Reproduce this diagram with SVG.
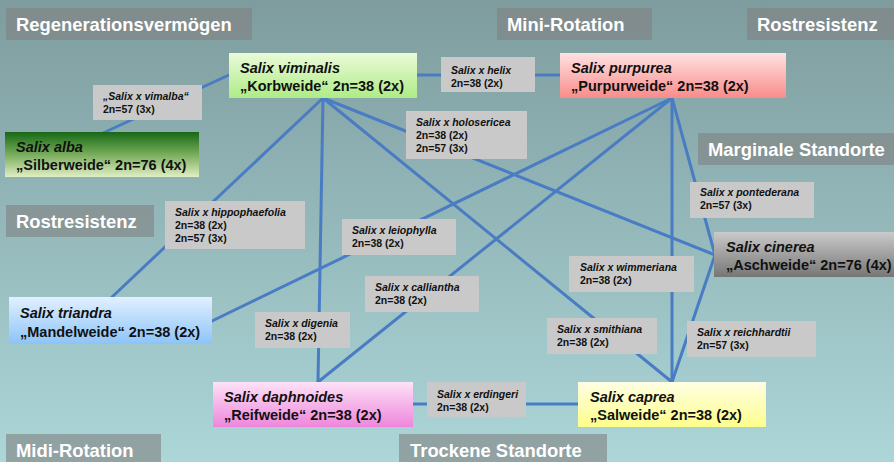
<svg xmlns="http://www.w3.org/2000/svg" width="894" height="462" viewBox="0 0 894 462">
<style>
text{font-family:"Liberation Sans",Arial,sans-serif;font-weight:bold;fill:#111}
.cat rect{fill:#808080;fill-opacity:0.6}
.cat text{fill:#fff;font-size:18.4px}
.node text{font-size:14.5px}
.it{font-style:italic}
.hyb rect{fill:#c9c9c9}
.hyb text{font-size:10.5px}
.conn line{stroke:#4a7cc4;stroke-width:3;stroke-linecap:round}
</style>
<defs>
<linearGradient id="bg" x1="0" y1="0" x2="0" y2="1"><stop offset="0" stop-color="#7e9c9e"/><stop offset="1" stop-color="#acd6d8"/></linearGradient>
<linearGradient id="gGreen" x1="0" y1="0" x2="0" y2="1"><stop offset="0" stop-color="#eafad9"/><stop offset="1" stop-color="#aeec86"/></linearGradient>
<linearGradient id="gRed" x1="0" y1="0" x2="0" y2="1"><stop offset="0" stop-color="#fee2e2"/><stop offset="1" stop-color="#f98c8a"/></linearGradient>
<linearGradient id="gAlba" x1="0" y1="0" x2="0" y2="1"><stop offset="0" stop-color="#166816"/><stop offset="0.45" stop-color="#6ea652"/><stop offset="1" stop-color="#e0eec4"/></linearGradient>
<linearGradient id="gGray" x1="0" y1="0" x2="0" y2="1"><stop offset="0" stop-color="#cacaca"/><stop offset="1" stop-color="#767676"/></linearGradient>
<linearGradient id="gBlue" x1="0" y1="0" x2="0" y2="1"><stop offset="0" stop-color="#e2f0ff"/><stop offset="1" stop-color="#8cc4f8"/></linearGradient>
<linearGradient id="gPink" x1="0" y1="0" x2="0" y2="1"><stop offset="0" stop-color="#fde2f6"/><stop offset="1" stop-color="#ee86dc"/></linearGradient>
<linearGradient id="gYellow" x1="0" y1="0" x2="0" y2="1"><stop offset="0" stop-color="#fefee4"/><stop offset="1" stop-color="#fefe8c"/></linearGradient>
</defs>
<rect x="0" y="0" width="894" height="462" fill="url(#bg)"/>

<g id="categories">
<g id="cat-regeneration" class="cat"><rect x="6" y="8" width="246" height="32"/><text x="16" y="31">Regenerationsvermögen</text></g>
<g id="cat-mini" class="cat"><rect x="497" y="8" width="155" height="32"/><text x="507" y="31">Mini-Rotation</text></g>
<g id="cat-rost1" class="cat"><rect x="747" y="8" width="147" height="32"/><text x="757" y="31">Rostresistenz</text></g>
<g id="cat-marginal" class="cat"><rect x="698" y="133" width="196" height="32"/><text x="708" y="156">Marginale Standorte</text></g>
<g id="cat-rost2" class="cat"><rect x="6" y="205" width="148" height="32"/><text x="16" y="228">Rostresistenz</text></g>
<g id="cat-midi" class="cat"><rect x="6" y="434" width="155" height="32"/><text x="16" y="457">Midi-Rotation</text></g>
<g id="cat-trocken" class="cat"><rect x="399" y="434" width="208" height="32"/><text x="410" y="457">Trockene Standorte</text></g>
</g>

<g id="connectors" class="conn">
<line x1="103" y1="133" x2="229" y2="75"/>
<line x1="417" y1="75" x2="560" y2="75"/>
<line x1="323" y1="98" x2="112" y2="297"/>
<line x1="323" y1="98" x2="318" y2="382"/>
<line x1="323" y1="98" x2="672" y2="382"/>
<line x1="323" y1="98" x2="715" y2="255"/>
<line x1="672" y1="98" x2="212" y2="321"/>
<line x1="672" y1="98" x2="318" y2="382"/>
<line x1="672" y1="98" x2="672" y2="382"/>
<line x1="672" y1="98" x2="715" y2="255"/>
<line x1="715" y1="255" x2="672" y2="382"/>
<line x1="413" y1="404" x2="578" y2="404"/>
</g>

<g id="hybrids">
<g id="h-vimalba" class="hyb"><rect x="93" y="85" width="109" height="35"/><text x="103" y="100" class="it" font-size="10">„Salix x vimalba“</text><text x="103" y="113">2n=57 (3x)</text></g>
<g id="h-helix" class="hyb"><rect x="441" y="57" width="94" height="35"/><text x="451" y="74" class="it">Salix x helix</text><text x="451" y="87">2n=38 (2x)</text></g>
<g id="h-holosericea" class="hyb"><rect x="406" y="111" width="121" height="48"/><text x="416" y="126" class="it">Salix x holosericea</text><text x="416" y="139">2n=38 (2x)</text><text x="416" y="152">2n=57 (3x)</text></g>
<g id="h-hippophaefolia" class="hyb"><rect x="165" y="201" width="140" height="48"/><text x="175" y="216" class="it">Salix x hippophaefolia</text><text x="175" y="229">2n=38 (2x)</text><text x="175" y="242">2n=57 (3x)</text></g>
<g id="h-leiophylla" class="hyb"><rect x="342" y="219" width="114" height="36"/><text x="352" y="234" class="it">Salix x leiophylla</text><text x="352" y="247">2n=38 (2x)</text></g>
<g id="h-calliantha" class="hyb"><rect x="365" y="276" width="114" height="36"/><text x="375" y="291" class="it">Salix x calliantha</text><text x="375" y="304">2n=38 (2x)</text></g>
<g id="h-digenia" class="hyb"><rect x="255" y="312" width="95" height="36"/><text x="265" y="327" class="it">Salix x digenia</text><text x="265" y="340">2n=38 (2x)</text></g>
<g id="h-pontederana" class="hyb"><rect x="690" y="182" width="124" height="36"/><text x="700" y="196" class="it">Salix x pontederana</text><text x="700" y="209">2n=57 (3x)</text></g>
<g id="h-wimmeriana" class="hyb"><rect x="569" y="256" width="125" height="36"/><text x="580" y="271" class="it">Salix x wimmeriana</text><text x="580" y="284">2n=38 (2x)</text></g>
<g id="h-smithiana" class="hyb"><rect x="547" y="318" width="110" height="36"/><text x="557" y="333" class="it">Salix x smithiana</text><text x="557" y="346">2n=38 (2x)</text></g>
<g id="h-reichhardtii" class="hyb"><rect x="687" y="321" width="129" height="36"/><text x="697" y="336" class="it">Salix x reichhardtii</text><text x="697" y="349">2n=57 (3x)</text></g>
<g id="h-erdingeri" class="hyb"><rect x="427" y="382" width="99" height="35"/><text x="437" y="398" class="it" font-size="10">Salix x erdingeri</text><text x="437" y="411" font-size="10">2n=38 (2x)</text></g>
</g>

<g id="n-viminalis" class="node"><rect x="229" y="53" width="188" height="45" fill="url(#gGreen)"/><text x="240" y="73" class="it">Salix viminalis</text><text x="240" y="91">„Korbweide“ 2n=38 (2x)</text></g>
<g id="n-purpurea" class="node"><rect x="560" y="53" width="226" height="45" fill="url(#gRed)"/><text x="571" y="73" class="it">Salix purpurea</text><text x="571" y="91">„Purpurweide“ 2n=38 (2x)</text></g>
<g id="n-alba" class="node"><rect x="5" y="132" width="194" height="45" fill="url(#gAlba)"/><text x="16" y="152" class="it">Salix alba</text><text x="16" y="170">„Silberweide“ 2n=76 (4x)</text></g>
<g id="n-cinerea" class="node"><rect x="714" y="232" width="180" height="45" fill="url(#gGray)"/><text x="726" y="252" class="it">Salix cinerea</text><text x="726" y="270">„Aschweide“ 2n=76 (4x)</text></g>
<g id="n-triandra" class="node"><rect x="9" y="297" width="203" height="47" fill="url(#gBlue)"/><text x="20" y="318" class="it">Salix triandra</text><text x="20" y="337">„Mandelweide“ 2n=38 (2x)</text></g>
<g id="n-daphnoides" class="node"><rect x="213" y="382" width="200" height="45" fill="url(#gPink)"/><text x="224" y="402" class="it">Salix daphnoides</text><text x="224" y="420">„Reifweide“ 2n=38 (2x)</text></g>
<g id="n-caprea" class="node"><rect x="578" y="382" width="188" height="45" fill="url(#gYellow)"/><text x="590" y="402" class="it">Salix caprea</text><text x="590" y="420">„Salweide“ 2n=38 (2x)</text></g>
</svg>
